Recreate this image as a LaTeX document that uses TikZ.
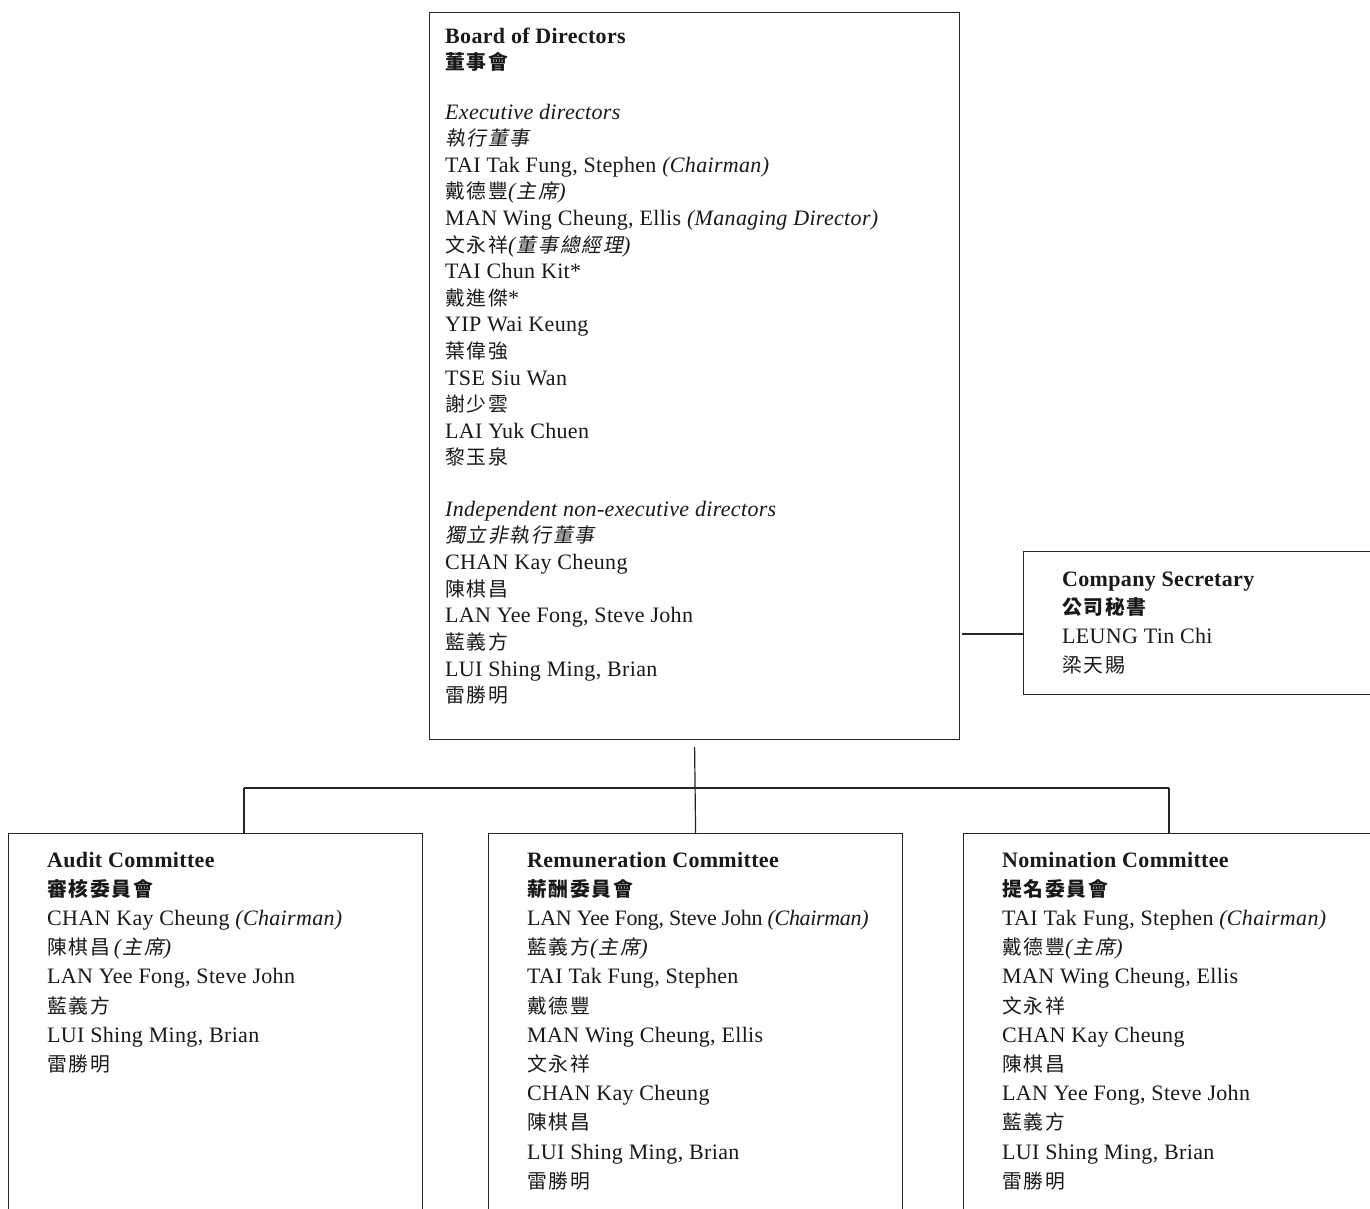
\documentclass[tikz,border=0pt]{standalone}
\usepackage{fontspec}
\setmainfont[LetterSpace=1.5]{Liberation Serif}
\newfontfamily\tightfam[LetterSpace=-1.5]{Liberation Serif}
\newfontfamily\cjkfam[Scale=0.9,LetterSpace=9,AutoFakeSlant=0.2]{Noto Sans CJK TC}
\newcommand\zh[1]{{\cjkfam #1}}
\newcommand\zhi[1]{{\cjkfam\itshape #1}}
\newcommand\zhb[1]{{\cjkfam\bfseries #1}}
\begin{document}
\begin{tikzpicture}[x=1pt,y=-1pt,
  box/.style={draw=black!85, line width=1.2pt, inner sep=0pt, anchor=north west},
  txt/.style={inner sep=0pt, anchor=base west, text=black!90, font=\fontsize{22}{26}\selectfont},
  conn/.style={draw=black!85, line width=1.2pt}]
\useasboundingbox (0,0) rectangle (1370,1208);
\clip (0,0) rectangle (1370,1208);
\fill[white] (0,0) rectangle (1370,1208);

% boxes
\node[box, minimum width=530pt, minimum height=727pt] (board) at (429,12) {};
\node[box, minimum width=360pt, minimum height=143pt] (sec) at (1023,551) {};
\node[box, minimum width=414pt, minimum height=420pt] (audit) at (8,833) {};
\node[box, minimum width=414pt, minimum height=420pt] (remun) at (488,833) {};
\node[box, minimum width=420pt, minimum height=420pt] (nomin) at (963,833) {};

% connectors
\coordinate (bsouth) at ([yshift=-7pt]board.south);
\coordinate (jl) at (244,788);
\coordinate (jr) at (1169,788);
\coordinate (secin) at (962,634);
\draw[conn] (bsouth) -- (remun.north);
\draw[conn] (jl) -- (jr);
\draw[conn] (jl) -- (jl |- audit.north);
\draw[conn] (jr) -- (jr |- nomin.north);
\draw[conn] (secin) -- (secin -| sec.west);

% board text
\node[txt] (bd1) at (445,43) {\textbf{Board of Directors}};
\node[txt] (bd2) at (445,69) {\zhb{董事會}};
\foreach \t [count=\i] in {
  {\textit{Executive directors}},
  {\zhi{執行董事}},
  {TAI Tak Fung, Stephen \textit{(Chairman)}},
  {\zh{戴德豐}\textit{(}\zhi{主席}\textit{)}},
  {MAN Wing Cheung, Ellis \textit{(Managing Director)}},
  {\zh{文永祥}\textit{(}\zhi{董事總經理}\textit{)}},
  {TAI Chun Kit*},
  {\zh{戴進傑}*},
  {YIP Wai Keung},
  {\zh{葉偉強}},
  {TSE Siu Wan},
  {\zh{謝少雲}},
  {LAI Yuk Chuen},
  {\zh{黎玉泉}}}
  \node[txt] (be\i) at (445,{119+(\i-1)*26.6}) {\t};
\foreach \t [count=\i] in {
  {\textit{Independent non-executive directors}},
  {\zhi{獨立非執行董事}},
  {CHAN Kay Cheung},
  {\zh{陳棋昌}},
  {LAN Yee Fong, Steve John},
  {\zh{藍義方}},
  {LUI Shing Ming, Brian},
  {\zh{雷勝明}}}
  \node[txt] (bi\i) at (445,{516+(\i-1)*26.7}) {\t};

% company secretary
\foreach \t [count=\i] in {
  {\textbf{Company Secretary}},
  {\zhb{公司秘書}},
  {LEUNG Tin Chi},
  {\zh{梁天賜}}}
  \node[txt] (cs\i) at (1062,{586+(\i-1)*28.7}) {\t};

% audit
\foreach \t [count=\i] in {
  {\textbf{Audit Committee}},
  {\zhb{審核委員會}},
  {CHAN Kay Cheung \textit{(Chairman)}},
  {\zh{陳棋昌}\,\textit{(}\zhi{主席}\textit{)}},
  {LAN Yee Fong, Steve John},
  {\zh{藍義方}},
  {LUI Shing Ming, Brian},
  {\zh{雷勝明}}}
  \node[txt] (au\i) at (47,{867+(\i-1)*29.2}) {\t};

% remuneration
\foreach \t [count=\i] in {
  {\textbf{Remuneration Committee}},
  {\zhb{薪酬委員會}},
  {{\tightfam LAN Yee Fong, Steve John \textit{(Chairman)}}},
  {\zh{藍義方}\textit{(}\zhi{主席}\textit{)}},
  {TAI Tak Fung, Stephen},
  {\zh{戴德豐}},
  {MAN Wing Cheung, Ellis},
  {\zh{文永祥}},
  {CHAN Kay Cheung},
  {\zh{陳棋昌}},
  {LUI Shing Ming, Brian},
  {\zh{雷勝明}}}
  \node[txt] (re\i) at (527,{867+(\i-1)*29.2}) {\t};

% nomination
\foreach \t [count=\i] in {
  {\textbf{Nomination Committee}},
  {\zhb{提名委員會}},
  {TAI Tak Fung, Stephen \textit{(Chairman)}},
  {\zh{戴德豐}\textit{(}\zhi{主席}\textit{)}},
  {MAN Wing Cheung, Ellis},
  {\zh{文永祥}},
  {CHAN Kay Cheung},
  {\zh{陳棋昌}},
  {LAN Yee Fong, Steve John},
  {\zh{藍義方}},
  {LUI Shing Ming, Brian},
  {\zh{雷勝明}}}
  \node[txt] (no\i) at (1002,{867+(\i-1)*29.2}) {\t};
\end{tikzpicture}
\end{document}
